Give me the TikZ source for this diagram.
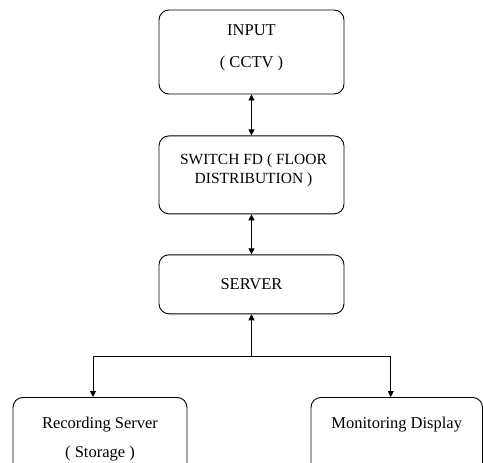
\documentclass[tikz,border=0pt]{standalone}
\usepackage{fontspec}
\setmainfont{Liberation Serif}
\usetikzlibrary{positioning,arrows.meta}
\tikzstyle{box}=[draw,rounded corners=10pt,minimum width=185pt]
\tikzstyle{txt}=[align=center,inner sep=0pt]

\begin{document}
\begin{tikzpicture}[node distance=41pt,
      >={Triangle[length=6pt,width=6pt]},line width=0.9pt,
      font=\fontsize{16.5}{19}\selectfont
      ]
      \useasboundingbox (0,0) rectangle (483pt,-463pt);
      \clip (0,0) rectangle (483pt,-463pt);
      % main column
      \node[box,minimum height=84pt] (input) at (251.5pt,-52pt) {};
      \node[box,minimum height=78pt,below=of input] (switch) {};
      \node[box,minimum height=59pt,below=40pt of switch] (server) {SERVER};
      % the two outputs, running off the bottom
      \node[box,minimum width=174pt,minimum height=82pt,anchor=north] (record) at (100pt,-397pt) {};
      \node[box,minimum width=171.5pt,minimum height=82pt,anchor=north] (monitor) at (396.75pt,-397pt) {};
      % labels
      \node[txt,below=14.5pt of input.north] (inputtxt) {INPUT\\[13pt]( CCTV )};
      \node[txt,below=17.5pt of switch.north,xshift=2pt,
            font=\fontsize{15.5}{19}\selectfont] (switchtxt) {SWITCH FD ( FLOOR\\DISTRIBUTION )};
      \node[txt,below=19.7pt of record.north] (recordtxt) {Recording Server\\[10pt]( Storage )};
      \node[txt,below=19.7pt of monitor.north] (monitortxt) {Monitoring Display};
      % links
      \draw[<->] (input) -- (switch);
      \draw[<->] (switch) -- (server);
      \coordinate[below=42pt of server] (split);
      \coordinate (recin) at ([xshift=-7pt]record.north);
      \coordinate (monin) at ([xshift=-6pt]monitor.north);
      \draw[->] (split) -- (server);
      \draw[->] (split) -| (recin);
      \draw[->] (split) -| (monin);
    \end{tikzpicture}
\end{document}
